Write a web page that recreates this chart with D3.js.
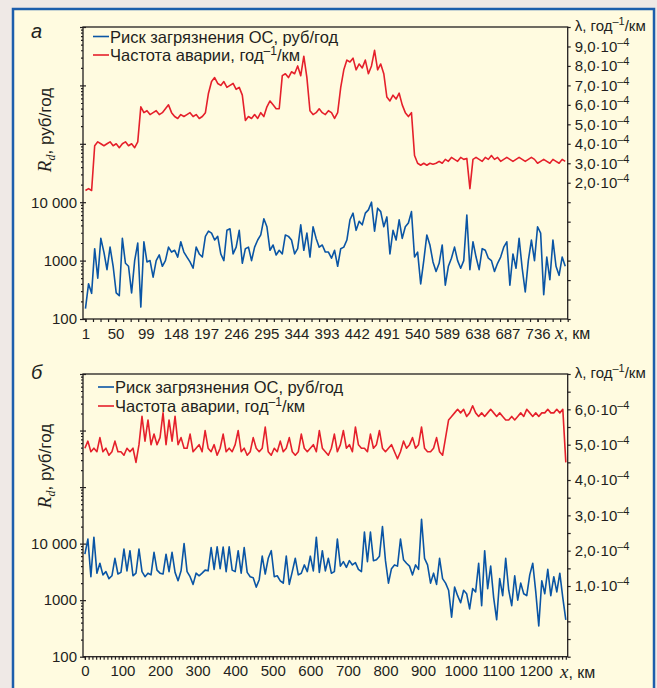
<!DOCTYPE html>
<html>
<head>
<meta charset="utf-8">
<script src="https://cdn.jsdelivr.net/npm/d3@7"></script>
<style>
  body { margin: 0; background: #efe9e6; }
  svg { display: block; font-family: "Liberation Sans", Arial, sans-serif; }
  .axis text { fill: #231f20; font-size: 15px; font-family: "Liberation Sans", Arial, sans-serif; }
  .axis line { stroke: #231f20; stroke-width: 1.2; }
</style>
</head>
<body>
<svg id="chart" width="657" height="688"></svg>
<script>
// ---------- data: panel a ----------
// km step of the series, first km
const stepA = 5;
const startA = 1;
// accident frequency, x 1e-4 1/(year*km)
const lambdaA = [1.6,1.7,1.6,
  3.9,4.1,4.0,3.9,4.0,4.1,3.9,4.0,3.8,4.0,4.1,3.9,4.0,3.8,4.1,
  5.9,5.6,5.7,5.5,5.6,5.7,5.5,5.6,5.8,6.0,5.6,5.4,5.3,5.5,5.4,5.5,5.6,5.4,5.5,5.3,5.4,5.6,
  6.6,7.2,7.4,7.1,7.0,7.2,6.9,7.0,7.1,6.8,6.9,6.5,
  5.2,5.4,5.3,5.5,5.3,5.6,5.4,
  5.9,6.2,6.0,5.8,5.8,
  7.5,7.6,7.4,7.7,7.6,8.0,7.5,8.5,7.4,
  5.7,5.5,5.6,5.8,5.6,5.5,5.7,5.6,5.3,5.6,
  6.9,7.8,8.3,
  8.2,8.4,7.8,8.1,7.9,8.3,7.6,8.0,8.8,7.8,8.1,7.6,
  6.4,6.2,6.5,6.3,6.6,6.0,
  5.6,5.4,5.6,
  3.4,3.0,2.9,3.0,2.9,3.0,2.95,3.0,3.1,3.0,3.2,3.1,3.3,3.2,3.1,3.3,3.2,3.25,1.7,3.2,
  3.3,3.2,3.1,3.3,3.2,3.4,3.2,3.3,3.1,3.2,3.3,3.2,3.1,3.2,3.3,3.2,3.1,3.2,3.3,3.2,
  3.0,3.1,3.2,3.1,3.0,3.2,3.1,3.0,3.2,3.1];
// environmental pollution risk, rub/year
const riskA = [150,400,275,1600,500,2400,1400,700,1700,800,
  280,250,2400,900,800,280,1000,2000,160,2100,
  950,1000,520,1000,1250,800,1000,1700,1400,1500,
  1150,2100,1400,1150,950,740,1700,1300,1150,2600,
  3200,2950,2250,2600,1300,1000,3300,3500,1300,1700,
  3300,900,1600,1700,1000,1700,2250,2750,5200,3800,
  1500,1850,1250,1500,1300,2750,2600,2250,1300,1600,
  4100,1500,2950,1150,3800,2400,1700,1850,1400,1400,
  1100,1500,800,1600,1700,2250,5000,6500,3300,4700,
  4100,6500,7400,10000,3200,7900,6900,3800,5600,1300,
  3300,2250,5000,2400,3800,4400,6900,1150,1400,400,
  1000,2750,1850,950,650,900,1850,380,800,1100,
  1700,1000,740,1000,6000,700,2100,1150,700,1600,
  1500,1100,1000,650,900,1150,1700,2100,380,1300,
  740,2400,740,290,1000,2250,1000,3800,2950,260,
  1150,470,2250,800,560,1150,800];
const tickKmA = [1,50,99,148,197,246,295,344,393,442,491,540,589,638,687,736];
const lambdaLabelsA = [2,3,4,5,6,7,8,9];

// ---------- data: panel b ----------
const stepB = 8;
const startB = 0;
const lambdaB = [4.9,5.1,4.8,4.9,4.8,5.2,
  4.8,4.9,4.7,4.8,5.1,4.8,4.8,4.7,4.9,4.8,4.9,4.5,
  5.0,5.8,5.1,5.7,5.0,5.3,5.0,5.2,5.9,5.0,5.7,5.1,5.8,5.0,5.2,4.9,
  4.9,5.3,4.8,4.9,5.0,4.8,5.4,4.9,4.8,5.0,4.7,4.9,5.3,4.8,4.9,4.8,5.0,5.4,4.8,4.9,
  4.7,4.8,5.2,4.9,4.8,4.9,5.5,4.8,4.7,4.9,4.8,5.1,4.8,4.9,5.2,4.8,4.7,4.8,5.3,4.9,
  4.8,4.9,5.0,4.8,5.4,4.9,4.8,4.7,
  4.9,5.3,4.8,5.0,5.4,4.9,5.0,4.8,5.5,5.0,4.9,4.9,4.8,5.3,4.9,5.0,5.4,4.9,4.8,4.9,
  5.0,4.8,4.6,4.8,5.1,4.9,5.0,5.2,4.9,5.0,5.5,4.9,4.8,4.8,4.9,5.2,4.8,4.7,5.2,
  5.7,
  5.8,5.9,6.0,5.9,6.0,5.8,5.9,6.1,5.9,5.8,5.9,5.8,5.9,6.0,5.9,5.8,5.9,5.8,5.7,5.7,
  5.8,5.7,5.8,5.9,5.8,6.0,5.9,5.8,5.9,5.8,5.9,5.9,6.0,5.9,5.9,6.0,5.9,6.0,4.5];
const riskB = [6500,12000,2600,13000,3000,4500,2800,3200,2400,2700,
  5500,2900,3100,8000,3300,7500,2700,3000,8000,3200,
  2600,3000,2800,7000,3400,3000,2900,6500,3200,7000,
  3100,2200,3300,10000,3200,2600,1900,3000,2700,3000,
  3400,3300,8500,3500,8800,3600,8700,3200,8800,3400,
  3200,7500,3000,8500,3100,2600,2500,1700,2300,6000,
  2900,5500,7500,2600,2700,2200,2000,6000,1900,3200,
  5500,2800,3000,4200,3200,6000,3300,13000,3100,7500,
  3300,5500,3000,3200,12000,4000,4800,3800,5000,4200,
  4600,3500,3200,16000,4800,16000,5000,5200,6000,20000,
  5000,2000,3600,4200,4000,12000,5200,4500,4000,2800,
  4200,3500,27000,5500,4200,2000,3000,1900,5500,2400,
  2000,1500,500,1700,1200,900,1500,1300,700,1600,
  1400,4500,800,7500,1600,4000,1100,450,2400,1200,
  5500,1500,800,2700,1000,2000,1300,1200,2800,4500,
  1400,350,2200,1300,3500,1200,2600,1400,3000,1100,450];
const tickKmB = [0,100,200,300,400,500,600,700,800,900,1000,1100,1200];
const lambdaLabelsB = [1,2,3,4,5,6];

// shared
const riskLabels = [100, 1000, 10000];
const legendRisk = 'Риск загрязнения ОС, руб/год';
const legendLambda = 'Частота аварии, год';

const blue = '#0a55a5';
const red = '#e5202b';
const ink = '#231f20';

const svg = d3.select('#chart');

// frame
svg.append('rect')
  .attr('x', 13).attr('y', 9)
  .attr('width', 641).attr('height', 700)
  .attr('fill', '#fffbe0')
  .attr('stroke', '#1c5eac')
  .attr('stroke-width', 2.5);

const panels = [
  { letter: 'а', top: 27, bottom: 319, xDomain: [-3, 785], xStart: startA, xStep: stepA,
    lambda: lambdaA, risk: riskA, xTicks: tickKmA, xMinor: d3.range(1, 786, 12.25),
    lamDomain: [-5, 10], lamLabels: lambdaLabelsA, lamMinor: d3.range(-5, 10.01, 1),
    legendX: 93, legendY: [36.5, 55], titleY: 130, letterY: 38, xLabelX: 555, xLabelY: 339 },
  { letter: 'б', top: 374, bottom: 656.7, xDomain: [-5, 1285], xStart: startB, xStep: stepB,
    lambda: lambdaB, risk: riskB, xTicks: tickKmB, xMinor: d3.range(0, 1285, 10),
    lamDomain: [-1, 7], lamLabels: lambdaLabelsB, lamMinor: d3.range(-1, 7.01, 0.5),
    legendX: 98, legendY: [387, 406], titleY: 466, letterY: 379, xLabelX: 560, xLabelY: 678 }
];

const plotL = 83, plotR = 567.7;

function sup(sel, txt, size) {
  sel.append('tspan').attr('dy', -6).attr('font-size', size).text(txt);
}

panels.forEach(p => {
  const x = d3.scaleLinear().domain(p.xDomain).range([plotL, plotR]);
  const yR = d3.scaleLog().domain([100, 1e7]).range([p.bottom, p.top]);
  const yL = d3.scaleLinear().domain(p.lamDomain).range([p.bottom, p.top]);
  const g = svg.append('g');
  const km = (d, i) => p.xStart + i * p.xStep;

  // series
  g.append('path').datum(p.lambda)
    .attr('fill', 'none').attr('stroke', red).attr('stroke-width', 1.6)
    .attr('stroke-linejoin', 'round')
    .attr('d', d3.line().x((d, i) => x(km(d, i))).y(d => yL(d)));
  g.append('path').datum(p.risk)
    .attr('fill', 'none').attr('stroke', blue).attr('stroke-width', 1.6)
    .attr('stroke-linejoin', 'round')
    .attr('d', d3.line().x((d, i) => x(km(d, i))).y(d => yR(d)));

  // plot box
  g.append('rect')
    .attr('x', plotL).attr('y', p.top)
    .attr('width', plotR - plotL).attr('height', p.bottom - p.top)
    .attr('fill', 'none').attr('stroke', ink).attr('stroke-width', 1.3);

  // left log axis: minor then major
  const minorR = [];
  [100, 1000, 10000, 1e5, 1e6].forEach(dec => { for (let k = 2; k < 10; k++) minorR.push(dec * k); });
  g.append('g').attr('class', 'axis').attr('transform', `translate(${plotL},0)`)
    .call(d3.axisLeft(yR).tickValues(minorR).tickSize(2).tickFormat(''))
    .call(a => a.select('.domain').remove());
  g.append('g').attr('class', 'axis').attr('transform', `translate(${plotL},0)`)
    .call(d3.axisLeft(yR).tickValues([100, 1000, 10000, 1e5, 1e6, 1e7]).tickSize(3).tickPadding(3)
      .tickFormat(d => riskLabels.includes(d) ? (d === 10000 ? '10 000' : String(d)) : ''))
    .call(a => a.select('.domain').remove())
    .call(a => a.selectAll('.tick line').attr('x1', 3));

  // right linear axis
  const right = g.append('g').attr('class', 'axis').attr('transform', `translate(${plotR},0)`)
    .call(d3.axisRight(yL).tickValues(p.lamMinor).tickSize(3).tickPadding(4).tickFormat(''))
    .call(a => a.select('.domain').remove());
  right.selectAll('.tick text').each(function (d) {
    if (!p.lamLabels.includes(d)) return;
    const t = d3.select(this);
    t.append('tspan').text(d.toFixed(1).replace('.', ',') + '·10');
    sup(t, '–4', 11);
  });

  // bottom axis
  g.append('g').attr('class', 'axis').attr('transform', `translate(0,${p.bottom})`)
    .call(d3.axisBottom(x).tickValues(p.xMinor).tickSize(3).tickFormat(''))
    .call(a => a.select('.domain').remove());
  g.append('g').attr('class', 'axis').attr('transform', `translate(0,${p.bottom})`)
    .call(d3.axisBottom(x).tickValues(p.xTicks).tickSize(3).tickPadding(6).tickFormat(d => String(d)))
    .call(a => a.select('.domain').remove());

  // x label
  const xl = g.append('text').attr('x', p.xLabelX).attr('y', p.xLabelY).attr('fill', ink).attr('font-size', 16);
  xl.append('tspan').attr('font-family', '"Liberation Serif", serif').attr('font-style', 'italic').attr('font-size', 19).text('x');
  xl.append('tspan').text(', км');

  // lambda axis title
  const lt = g.append('text').attr('x', plotR + 7).attr('y', p.top + 4).attr('fill', ink).attr('font-size', 15);
  lt.append('tspan').text('λ, год');
  sup(lt, '–1', 11);
  lt.append('tspan').attr('dy', 6).text('/км');

  // risk axis title
  const rt = g.append('text')
    .attr('transform', `translate(51,${p.titleY}) rotate(-90)`)
    .attr('text-anchor', 'middle').attr('fill', ink).attr('font-size', 17);
  rt.append('tspan').attr('font-family', '"Liberation Serif", serif').attr('font-style', 'italic').attr('font-size', 19).text('R');
  rt.append('tspan').attr('font-family', '"Liberation Serif", serif').attr('font-style', 'italic').attr('font-size', 12).attr('dy', 4).text('d');
  rt.append('tspan').attr('dy', -4).text(', руб/год');

  // panel letter
  g.append('text').attr('x', 31).attr('y', p.letterY)
    .attr('font-style', 'italic').attr('font-size', 20).attr('fill', ink).text(p.letter);

  // legend
  const items = [{ c: blue, t: legendRisk, s: false }, { c: red, t: legendLambda, s: true }];
  items.forEach((it, k) => {
    const ly = p.legendY[k];
    g.append('line')
      .attr('x1', p.legendX).attr('x2', p.legendX + 16)
      .attr('y1', ly).attr('y2', ly)
      .attr('stroke', it.c).attr('stroke-width', 1.6);
    const tx = g.append('text').attr('x', p.legendX + 17).attr('y', ly + 6)
      .attr('fill', ink).attr('font-size', 16.5);
    tx.append('tspan').text(it.t);
    if (it.s) {
      sup(tx, '–1', 12);
      tx.append('tspan').attr('dy', 6).text('/км');
    }
  });
});
</script>
</body>
</html>
